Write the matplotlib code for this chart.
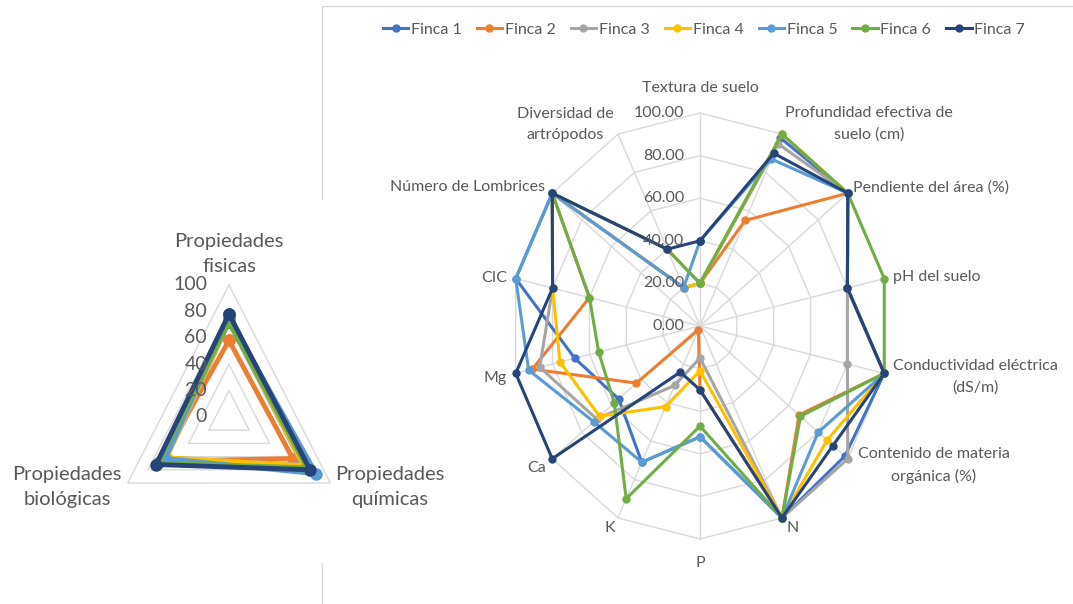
import numpy as np
import matplotlib.pyplot as plt
from matplotlib.patches import Rectangle

plt.rcParams['font.family'] = ['Lato', 'DejaVu Sans']

# ==========================================================
# DATOS
# ==========================================================

fincas = ['Finca 1', 'Finca 2', 'Finca 3', 'Finca 4', 'Finca 5', 'Finca 6', 'Finca 7']
colores = ['#4472C4', '#ED7D31', '#A5A5A5', '#FFC000', '#5B9BD5', '#70AD47', '#264478']

indicadores = ['Textura de suelo', 'Profundidad efectiva de\nsuelo (cm)',
               'Pendiente del área (%)', 'pH del suelo',
               'Conductividad eléctrica\n(dS/m)', 'Contenido de materia\norgánica (%)',
               'N', 'P', 'K', 'Ca', 'Mg', 'CIC', 'Número de Lombrices',
               'Diversidad de\nartrópodos']

finca_1 = [20, 98, 100, 80, 100, 98, 100, 52, 71, 55, 68, 100, 100, 20]
finca_2 = [20, 55, 100, 80, 100, 67, 100, 30, 2, 43, 91, 60, 100, 40]
finca_3 = [20, 95, 100, 80, 80, 100, 100, 15, 31, 70, 87, 80, 100, 20]
finca_4 = [20, 100, 100, 80, 100, 86, 100, 21, 42, 68, 76, 80, 100, 20]
finca_5 = [40, 87, 100, 80, 100, 80, 100, 52, 71, 72, 93, 100, 100, 20]
finca_6 = [20, 100, 100, 100, 100, 68, 100, 47, 90, 58, 55, 60, 100, 40]
finca_7 = [40, 90, 100, 80, 100, 90, 100, 30, 24, 100, 100, 80, 100, 40]
series = [finca_1, finca_2, finca_3, finca_4, finca_5, finca_6, finca_7]

propiedades = ['Propiedades\nfisicas', 'Propiedades\nquímicas', 'Propiedades\nbiológicas']
prop_fisicas = [73, 58, 72, 73, 75, 72, 78]
prop_quimicas = [80, 63, 73, 74, 86, 77, 80]
prop_biologicas = [62, 67, 62, 62, 63, 70, 72]

gris_texto = '#595959'
gris_rejilla = '#D9D9D9'

W, H = 1073, 604


def caja(x0, y0, x1, y1):
    # pixeles (origen arriba a la izquierda) -> fraccion de figura
    return [x0 / W, 1 - y1 / H, (x1 - x0) / W, (y1 - y0) / H]


def preparar_radar(ax, n, rmax, ticks, radios=True):
    ang = np.arange(n) * 2 * np.pi / n
    ax.set_theta_zero_location('N')
    ax.set_theta_direction(-1)
    ax.set_ylim(0, rmax)
    ax.set_aspect('auto')
    ax.grid(False)
    ax.set_xticks([])
    ax.set_yticks([])
    ax.spines['polar'].set_visible(False)
    ax.patch.set_alpha(0)
    cerrado = np.append(ang, ang[0])
    for r in ticks[1:]:
        ax.plot(cerrado, [r] * (n + 1), color=gris_rejilla, lw=1, zorder=1, clip_on=False)
    if radios:
        for a in ang:
            ax.plot([a, a], [0, rmax], color=gris_rejilla, lw=1, zorder=1, clip_on=False)
    return ang


fig = plt.figure(figsize=(W / 100, H / 100), dpi=100)

# marco del grafico principal y fondo del grafico pequeño
fig.add_artist(Rectangle((322 / W, -0.1), 1.0, 1 - 6 / H + 0.1, transform=fig.transFigure,
                         facecolor='none', edgecolor=gris_rejilla, lw=1, zorder=0))
fig.add_artist(Rectangle((0, 1 - 563 / H), 338 / W, 363 / H, transform=fig.transFigure,
                         facecolor='white', edgecolor='none', zorder=0.5))

# ==========================================================
# RADAR DE INDICADORES
# ==========================================================

ax = fig.add_axes(caja(511, 113, 889, 539), projection='polar')
ax.set_zorder(2)
ticks = [0, 20, 40, 60, 80, 100]
ang = preparar_radar(ax, len(indicadores), 100, ticks)

for nombre, valores, color in zip(fincas, series, colores):
    ax.plot(np.append(ang, ang[0]), valores + valores[:1], color=color, lw=2.2,
            marker='o', markersize=5, label=nombre, zorder=3, clip_on=False)

for r in ticks:
    ax.annotate(f'{r:.2f}', xy=(0, r), xytext=(-16, 0), textcoords='offset pixels',
                ha='right', va='center', fontsize=11.5, color=gris_texto)

desplazamientos = [(0, 18, 'center', 'bottom'), (3, 10, 'left', 'center'),
                   (5, 6, 'left', 'center'), (9, 2, 'left', 'center'),
                   (9, -3, 'left', 'center'), (10, -7, 'left', 'center'),
                   (4, -10, 'left', 'center'), (0, -17, 'center', 'top'),
                   (-3, -10, 'right', 'center'), (-6, -9, 'right', 'center'),
                   (-9, -5, 'right', 'center'), (-8, 1, 'right', 'center'),
                   (-7, 6, 'right', 'center'), (-4, 10, 'right', 'center')]
for a, texto, (dx, dy, ha, va) in zip(ang, indicadores, desplazamientos):
    ax.annotate(texto, xy=(a, 100), xytext=(dx, dy), textcoords='offset pixels',
                ha=ha, va=va, multialignment='center', fontsize=11.5,
                color=gris_texto, linespacing=1.65)

fig.legend(*ax.get_legend_handles_labels(), loc='center', ncol=7, frameon=False,
           bbox_to_anchor=(704 / W, 1 - 30 / H), fontsize=11.5, labelcolor=gris_texto,
           handlelength=1.6, handletextpad=0.15, columnspacing=0.95)

# ==========================================================
# RADAR DE PROPIEDADES
# ==========================================================

ax2 = fig.add_axes(caja(112, 285, 346, 549), projection='polar')
ax2.set_zorder(1)
ticks2 = [0, 20, 40, 60, 80, 100]
ang2 = preparar_radar(ax2, 3, 100, ticks2, radios=False)
cerrado2 = np.append(ang2, ang2[0])

for i, (nombre, color) in enumerate(zip(fincas, colores)):
    valores = [prop_fisicas[i], prop_quimicas[i], prop_biologicas[i]]
    ax2.plot(cerrado2, valores + valores[:1], color=color, lw=3.5, marker='o',
             markersize=8, zorder=3, clip_on=False)

for r in ticks2:
    ax2.annotate(f'{r}', xy=(0, r), xytext=(-22, 0), textcoords='offset pixels',
                 ha='right', va='center', fontsize=14, color=gris_texto)

desp2 = [(0, 10, 'center', 'bottom'), (5, -4, 'left', 'center'), (-6, -4, 'right', 'center')]
for a, texto, (dx, dy, ha, va) in zip(ang2, propiedades, desp2):
    ax2.annotate(texto, xy=(a, 100), xytext=(dx, dy), textcoords='offset pixels',
                 ha=ha, va=va, multialignment='center', fontsize=14.5,
                 color=gris_texto, linespacing=1.6)

fig.savefig('out.png', dpi=100)
